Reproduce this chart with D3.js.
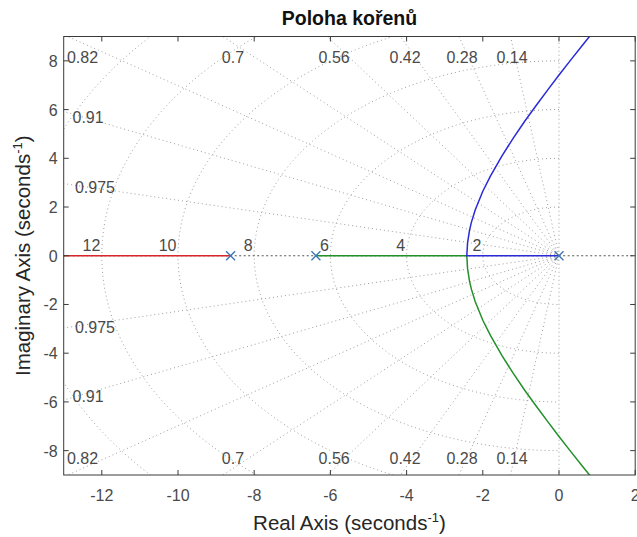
<!DOCTYPE html>
<html><head><meta charset="utf-8">
<script src="https://cdn.jsdelivr.net/npm/d3@7"></script>
<style>
html,body{margin:0;padding:0;background:#fff;}
svg{display:block;}
text{font-family:"Liberation Sans",Arial,Helvetica,sans-serif;}
</style></head>
<body>
<script>
// ---- data ----
const xDomain = [-13, 2];
const yDomain = [-9, 9];
const xTicks = [-12, -10, -8, -6, -4, -2, 0, 2];
const yTicks = [-8, -6, -4, -2, 0, 2, 4, 6, 8];
const zetaValues = [0.14, 0.28, 0.42, 0.56, 0.7, 0.82, 0.91, 0.975];
const wnCircles = [2, 4, 6, 8, 10, 12, 14];
const wnLabels = [2, 4, 6, 8, 10, 12];
const poles = [0, -6.38, -8.62];
// locus branches (real, imag)
const blueRe = [0, -1.2, -2.42, -2.4, -2.35, -2.3, -2.2, -2.0, -1.8, -1.5, -1.2, -0.9, -0.6, -0.3, 0.0, 0.3, 0.6, 0.8, 0.9];
const blueIm = [0, 0, 0, 0.53, 1.03, 1.37, 1.88, 2.65, 3.27, 4.09, 4.83, 5.52, 6.17, 6.80, 7.42, 8.02, 8.61, 9.0, 9.2];
const greenRe = [-6.38, -4.4, -2.42, -2.4, -2.35, -2.3, -2.2, -2.0, -1.8, -1.5, -1.2, -0.9, -0.6, -0.3, 0.0, 0.3, 0.6, 0.8, 0.9];
const greenIm = [0, 0, 0, -0.53, -1.03, -1.37, -1.88, -2.65, -3.27, -4.09, -4.83, -5.52, -6.17, -6.80, -7.42, -8.02, -8.61, -9.0, -9.2];
const redRe = [-8.62, -11, -14];
const redIm = [0, 0, 0];

const titleText = "Poloha kořenů";
const xLabel = "Real Axis (seconds";
const yLabel = "Imaginary Axis (seconds";

// ---- layout ----
const W = 637, H = 537;
const L = 63.7, R = 635.2, T = 36.5, B = 475;
const labelImag = 8.73;            // imag level where top/bottom damping labels sit
const leftLabelRe = {0.91: -12.36, 0.975: -12.18}; // real level for left-side damping labels

const svg = d3.select("body").append("svg").attr("width", W).attr("height", H);
const x = d3.scaleLinear().domain(xDomain).range([L, R]);
const y = d3.scaleLinear().domain(yDomain).range([B, T]);

svg.append("defs").append("clipPath").attr("id", "clip")
  .append("rect").attr("x", L).attr("y", T).attr("width", R - L).attr("height", B - T);

const plot = svg.append("g").attr("clip-path", "url(#clip)");
const line = d3.line().x(d => x(d[0])).y(d => y(d[1]));

const gridColor = "#9e9e9e";
const dash = "1,3";

// damping rays (start from origin)
zetaValues.forEach(z => {
  const s = Math.sqrt(1 - z * z);
  [1, -1].forEach(sg => {
    plot.append("path").attr("d", line([[0, 0], [-z * 40, sg * s * 40]]))
      .attr("fill", "none").attr("stroke", gridColor).attr("stroke-width", 1)
      .attr("stroke-dasharray", dash);
  });
});
// zeta = 0 line
[1, -1].forEach(sg => {
  plot.append("path").attr("d", line([[0, 0], [0, sg * 40]]))
    .attr("fill", "none").attr("stroke", gridColor).attr("stroke-width", 1)
    .attr("stroke-dasharray", dash);
});
// natural frequency semicircles
wnCircles.forEach(w => {
  const pts = d3.range(0, 181).map(i => {
    const a = Math.PI / 2 + i * Math.PI / 180;
    return [w * Math.cos(a), w * Math.sin(a)];
  });
  plot.append("path").attr("d", line(pts))
    .attr("fill", "none").attr("stroke", gridColor).attr("stroke-width", 1)
    .attr("stroke-dasharray", dash);
});
// real axis dotted
plot.append("path").attr("d", line([[xDomain[0], 0], [xDomain[1], 0]]))
  .attr("fill", "none").attr("stroke", "#555").attr("stroke-width", 1)
  .attr("stroke-dasharray", "2,2.5");

// locus branches
const toPts = (re, im) => re.map((v, i) => [v, im[i]]);
const curve = d3.line().x(d => x(d[0])).y(d => y(d[1]));
[[redRe, redIm, "#d9262b"], [greenRe, greenIm, "#22912a"], [blueRe, blueIm, "#2a2ad8"]].forEach(([re, im, c]) => {
  plot.append("path").attr("d", curve(toPts(re, im)))
    .attr("fill", "none").attr("stroke", c).attr("stroke-width", 1.5);
});

// poles
poles.forEach(p => {
  const cx = x(p), cy = y(0), s = 4.5;
  plot.append("path").attr("d", `M${cx - s},${cy - s}L${cx + s},${cy + s}M${cx - s},${cy + s}L${cx + s},${cy - s}`)
    .attr("stroke", "#3f78b4").attr("stroke-width", 1.4).attr("fill", "none");
});

// zeta labels
const lblColor = "#4a4a4a";
const fs = 16;
zetaValues.forEach(z => {
  const s = Math.sqrt(1 - z * z);
  const xt = -labelImag * z / s; // point on ray at label level
  if (leftLabelRe[z] === undefined) {
    [[x(xt), 63], [x(xt), 464]].forEach(([px, py]) => {
      svg.append("text").attr("x", px).attr("y", py).attr("font-size", fs)
        .attr("fill", lblColor).attr("text-anchor", "middle").text(String(z));
    });
  } else {
    const re = leftLabelRe[z];
    const im = -re * s / z;
    [y(im) + 4.7, y(-im) + 9.2].forEach(py => {
      svg.append("text").attr("x", x(re)).attr("y", py).attr("font-size", fs)
        .attr("fill", lblColor).attr("text-anchor", "middle").text(String(z));
    });
  }
});
// wn labels
wnLabels.forEach(w => {
  svg.append("text").attr("x", x(-w) - 1.5).attr("y", y(0) - 5).attr("font-size", fs)
    .attr("fill", lblColor).attr("text-anchor", "end").text(String(w));
});

// axes box and ticks
const axisColor = "#3a3a3a";
svg.append("rect").attr("x", L).attr("y", T).attr("width", R - L).attr("height", B - T)
  .attr("fill", "none").attr("stroke", axisColor).attr("stroke-width", 1);
const tl = 5;
xTicks.forEach(v => {
  svg.append("line").attr("x1", x(v)).attr("x2", x(v)).attr("y1", B).attr("y2", B - tl).attr("stroke", axisColor);
  svg.append("line").attr("x1", x(v)).attr("x2", x(v)).attr("y1", T).attr("y2", T + tl).attr("stroke", axisColor);
  svg.append("text").attr("x", x(v)).attr("y", B + 26).attr("font-size", fs).attr("fill", lblColor)
    .attr("text-anchor", "middle").text(String(v));
});
yTicks.forEach(v => {
  svg.append("line").attr("x1", L).attr("x2", L + tl).attr("y1", y(v)).attr("y2", y(v)).attr("stroke", axisColor);
  svg.append("line").attr("x1", R).attr("x2", R - tl).attr("y1", y(v)).attr("y2", y(v)).attr("stroke", axisColor);
  svg.append("text").attr("x", L - 6).attr("y", y(v) + 6).attr("font-size", fs).attr("fill", lblColor)
    .attr("text-anchor", "end").text(String(v));
});

// title
svg.append("text").attr("x", (L + R) / 2).attr("y", 25).attr("font-size", 19.5).attr("font-weight", "bold")
  .attr("fill", "#111").attr("text-anchor", "middle").text(titleText);

// x label
const xl = svg.append("text").attr("x", (L + R) / 2).attr("y", 530).attr("font-size", 20.5)
  .attr("fill", "#262626").attr("text-anchor", "middle");
xl.append("tspan").text(xLabel);
xl.append("tspan").attr("font-size", 13).attr("dy", -8).text("-1");
xl.append("tspan").attr("dy", 8).text(")");

// y label
const yl = svg.append("text").attr("transform", `translate(30,${(T + B) / 2}) rotate(-90)`)
  .attr("font-size", 20.5).attr("fill", "#262626").attr("text-anchor", "middle");
yl.append("tspan").text(yLabel);
yl.append("tspan").attr("font-size", 13).attr("dy", -8).text("-1");
yl.append("tspan").attr("dy", 8).text(")");
</script>
</body></html>
